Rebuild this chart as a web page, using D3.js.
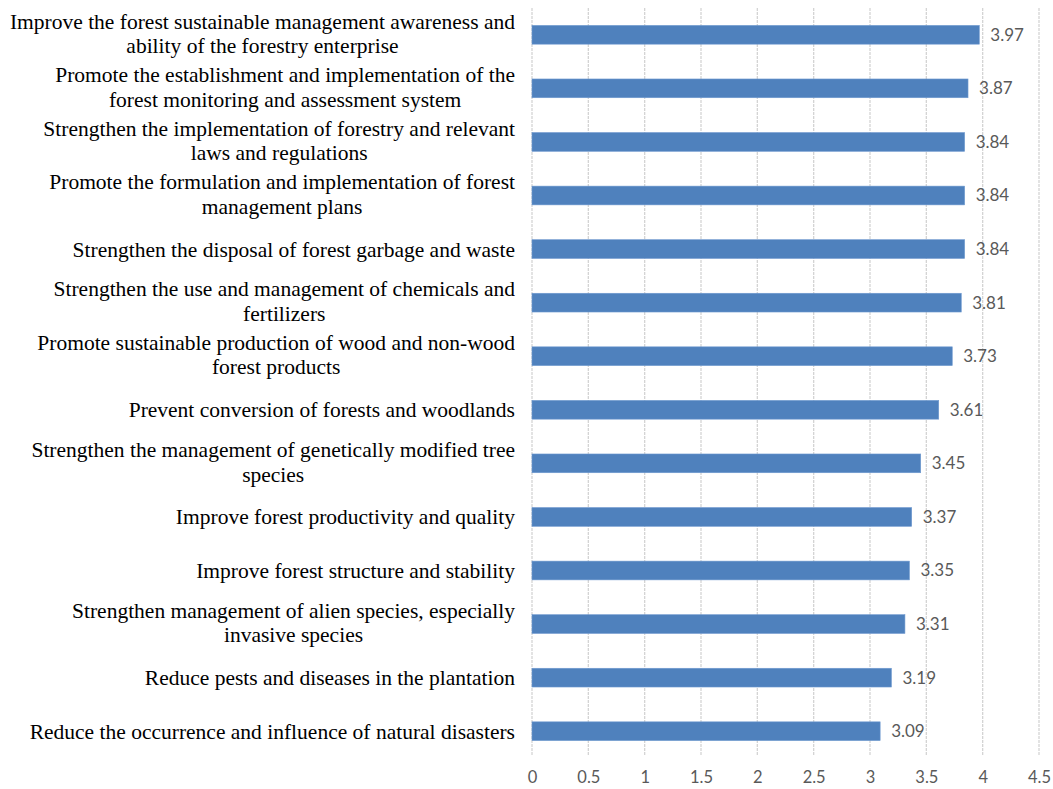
<!DOCTYPE html>
<html><head><meta charset="utf-8">
<script src="https://cdn.jsdelivr.net/npm/d3@7"></script>
<style>body{margin:0;background:#fff}</style>
</head><body>
<svg id="c" width="1053" height="789"></svg>
<script>
const categories = [
  ["Improve the forest sustainable management awareness and","ability of the forestry enterprise"],
  ["Promote the establishment and implementation of the","forest monitoring and assessment system"],
  ["Strengthen the implementation of forestry and relevant","laws and regulations"],
  ["Promote the formulation and implementation of forest","management plans"],
  ["Strengthen the disposal of forest garbage and waste"],
  ["Strengthen the use and management of chemicals and","fertilizers"],
  ["Promote sustainable production of wood and non-wood","forest products"],
  ["Prevent conversion of forests and woodlands"],
  ["Strengthen the management of genetically modified tree","species"],
  ["Improve forest productivity and quality"],
  ["Improve forest structure and stability"],
  ["Strengthen management of alien species, especially","invasive species"],
  ["Reduce pests and diseases in the plantation"],
  ["Reduce the occurrence and influence of natural disasters"]
];
const values = [3.97,3.87,3.84,3.84,3.84,3.81,3.73,3.61,3.45,3.37,3.35,3.31,3.19,3.09];
const tickValues = [0,0.5,1,1.5,2,2.5,3,3.5,4,4.5];
const tickLabels = ["0","0.5","1","1.5","2","2.5","3","3.5","4","4.5"];

const svg = d3.select("#c");
const x = d3.scaleLinear().domain([0,4.5]).range([532,1039]);
const y = d3.scaleBand().domain(d3.range(categories.length)).range([8,758]).paddingInner(0.65).paddingOuter(0.325);

// gridlines
svg.append("g").selectAll("line").data(tickValues).join("line")
  .attr("x1",d=>x(d)).attr("x2",d=>x(d)).attr("y1",8).attr("y2",756)
  .attr("stroke","#d4d4d4").attr("stroke-width",1.3).attr("stroke-dasharray","3,1");

// axis tick labels
const ax = d3.axisBottom(x).tickValues(tickValues).tickFormat((d,i)=>tickLabels[i]).tickSize(0).tickPadding(0);
const axg = svg.append("g").attr("transform","translate(0,771)").call(ax);
axg.select(".domain").remove();
axg.selectAll("text").attr("font-family","Lato, 'Open Sans', sans-serif").attr("font-size",16.5).attr("fill","#595959");

// bars
svg.append("g").selectAll("rect").data(values).join("rect")
  .attr("x",x(0)).attr("y",(d,i)=>y(i)).attr("width",d=>x(d)-x(0)).attr("height",y.bandwidth())
  .attr("fill","#4f81bd").attr("stroke","#6f99cf").attr("stroke-width",0.6);

// value labels
svg.append("g").selectAll("text").data(values).join("text")
  .attr("x",d=>x(d)+11).attr("y",(d,i)=>y(i)+y.bandwidth()/2)
  .attr("dy","0.35em").attr("font-family","Lato, 'Open Sans', sans-serif").attr("font-size",17).attr("fill","#595959")
  .text(d=>d.toFixed(2));

// category labels
const lh = 24.5;
const cg = svg.append("g").attr("font-family","'Liberation Serif','Times New Roman',serif").attr("font-size",21.5).attr("fill","#000");
categories.forEach((lines,i)=>{
  const cy = y(i)+y.bandwidth()/2;
  const t = cg.append("text").attr("text-anchor","middle");
  const n = lines.length;
  lines.forEach((l,j)=>{
    t.append("tspan").attr("y", cy + (j-(n-1)/2)*lh - (n>1?1.5:0)).attr("dy","0.35em").text(l);
  });
  let maxW = 0;
  t.selectAll("tspan").each(function(){ maxW = Math.max(maxW, this.getComputedTextLength()); });
  t.selectAll("tspan").attr("x", 515 - maxW/2);
});
</script>
</body></html>
